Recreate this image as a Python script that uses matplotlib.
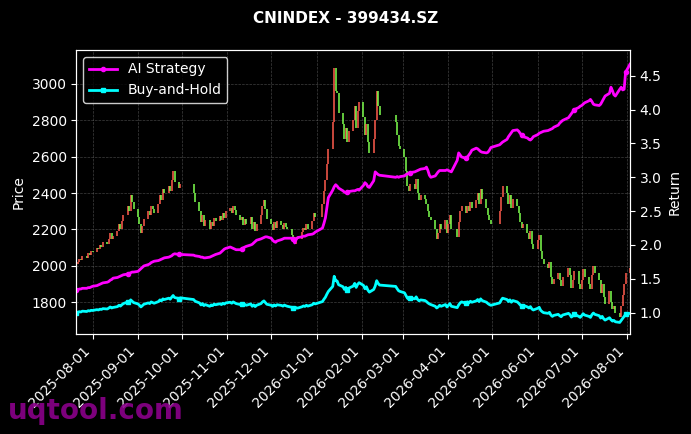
import numpy as np
import pandas as pd
import matplotlib
matplotlib.use('Agg')
import matplotlib.pyplot as plt
import matplotlib.dates as mdates

# trading calendar (SZ), holidays removed
start, end = '2025-07-21', '2026-08-03'
holidays = ['2025-10-01', '2025-10-02', '2025-10-03', '2025-10-06', '2025-10-07', '2025-10-08',
            '2026-01-01', '2026-01-02',
            '2026-02-16', '2026-02-17', '2026-02-18', '2026-02-19', '2026-02-20', '2026-02-23',
            '2026-04-06', '2026-05-01', '2026-05-04', '2026-05-05', '2026-06-19']

# daily close
close = [
    # Jul 2025
    2010, 2020, 2040, 2030, 2055, 2045, 2070, 2060, 2080,
    # Aug
    2075, 2100, 2090, 2115, 2105, 2130, 2120, 2145, 2180, 2150, 2165,
    2190, 2230, 2205, 2245, 2280, 2330, 2300, 2390, 2350, 2310,
    # Sep
    2270, 2230, 2180, 2220, 2260, 2300, 2280, 2330, 2310, 2290,
    2340, 2390, 2360, 2420, 2400, 2440, 2410, 2470, 2520, 2460, 2430, 2450,
    # Oct
    2400, 2350, 2300, 2240, 2280, 2220, 2250, 2200, 2240, 2220, 2265, 2245,
    2275, 2250, 2290, 2265, 2300,
    # Nov
    2320, 2290, 2330, 2305, 2280, 2250, 2270, 2225, 2255, 2230,
    2270, 2200, 2240, 2190, 2230, 2280, 2330, 2360, 2310, 2260,
    # Dec
    2230, 2195, 2240, 2210, 2245, 2225, 2205, 2235, 2215, 2200,
    2170, 2140, 2120, 2160, 2145, 2185, 2210, 2195, 2230, 2205, 2245, 2290, 2270,
    # Jan 2026
    2340, 2410, 2470, 2560, 2640, 2790, 3090, 2960, 2950, 2840,
    2780, 2700, 2760, 2680, 2740, 2800, 2880, 2760, 2850, 2900,
    # Feb
    2820, 2720, 2780, 2680, 2620, 2700, 2800, 2960, 2880, 2830,
    2790, 2720, 2660, 2640,
    # Mar
    2600, 2520, 2440, 2410, 2450, 2420, 2480, 2400, 2360, 2390,
    2370, 2340, 2300, 2270, 2250, 2200, 2150, 2180, 2230, 2200, 2250, 2180,
    # Apr
    2230, 2280, 2200, 2160, 2240, 2300, 2330, 2290, 2330, 2300, 2350, 2320,
    2360, 2400, 2340, 2420, 2370, 2320, 2280, 2250, 2230,
    # May
    2300, 2380, 2440, 2400, 2340, 2390, 2320, 2370, 2330, 2290, 2240, 2210, 2230,
    2180, 2150, 2190, 2120, 2090,
    # Jun
    2140, 2170, 2080, 2040, 2010, 1990, 2020, 1940, 1900, 1930,
    1960, 1920, 1890, 1940, 1990, 1950, 1880, 1920, 1970, 1900, 1870,
    # Jul
    1920, 1980, 1940, 1900, 1870, 1950, 2000, 1960, 1920, 1850, 1900, 1830, 1790,
    1860, 1800, 1760, 1780, 1740, 1720, 1780, 1840, 1900, 1960,
    # Aug
    1990,
]

# AI strategy cumulative return
ai_ret = [
    # Jul 2025
    1.33, 1.34, 1.35, 1.35, 1.36, 1.36, 1.37, 1.37, 1.38,
    # Aug
    1.39, 1.40, 1.41, 1.42, 1.43, 1.44, 1.45, 1.46, 1.48, 1.49, 1.51,
    1.52, 1.53, 1.54, 1.55, 1.56, 1.57, 1.58, 1.59, 1.60, 1.60,
    # Sep
    1.61, 1.63, 1.65, 1.67, 1.69, 1.71, 1.72, 1.74, 1.75, 1.76,
    1.77, 1.78, 1.79, 1.80, 1.81, 1.82, 1.83, 1.84, 1.86, 1.87, 1.86, 1.86,
    # Oct
    1.85, 1.84, 1.83, 1.82, 1.82, 1.81, 1.81, 1.82, 1.83, 1.84, 1.85, 1.86,
    1.88, 1.90, 1.92, 1.94, 1.95,
    # Nov
    1.97, 1.96, 1.95, 1.94, 1.93, 1.93, 1.94, 1.96, 1.97, 1.98,
    2.00, 2.01, 2.03, 2.05, 2.07, 2.09, 2.10, 2.11, 2.12, 2.12,
    # Dec
    2.10, 2.07, 2.05, 2.04, 2.06, 2.08, 2.09, 2.10, 2.10, 2.10,
    2.10, 2.09, 2.03, 2.08, 2.11, 2.12, 2.13, 2.13, 2.14, 2.15, 2.16, 2.17, 2.19,
    # Jan 2026
    2.25, 2.32, 2.40, 2.55, 2.70, 2.81, 2.86, 2.89, 2.87, 2.84,
    2.80, 2.78, 2.77, 2.78, 2.79, 2.80, 2.80, 2.81, 2.82, 2.81,
    # Feb
    2.88, 2.92, 2.90, 2.86, 2.85, 2.95, 3.08, 3.06, 3.04, 3.03,
    3.00, 3.01, 3.00, 3.01,
    # Mar
    3.02, 3.04, 3.05, 3.06, 3.07, 3.08, 3.09, 3.10, 3.11, 3.12,
    3.13, 3.15, 3.10, 3.03, 3.00, 3.02, 3.05, 3.08, 3.10, 3.10, 3.10, 3.11,
    # Apr
    3.10, 3.09, 3.08, 3.25, 3.36, 3.33, 3.30, 3.28, 3.30, 3.33, 3.36, 3.40,
    3.43, 3.42, 3.40, 3.38, 3.37, 3.36, 3.37, 3.40, 3.44,
    # May
    3.48, 3.50, 3.52, 3.56, 3.60, 3.63, 3.66, 3.69, 3.70, 3.68, 3.65, 3.62, 3.60,
    3.58, 3.56, 3.55, 3.57, 3.60,
    # Jun
    3.63, 3.65, 3.66, 3.67, 3.68, 3.69, 3.70, 3.71, 3.72, 3.74,
    3.77, 3.80, 3.82, 3.84, 3.88, 3.91, 3.94, 3.97, 4.00, 4.03, 4.05,
    # Jul
    4.06, 4.08, 4.10, 4.13, 4.15, 4.12, 4.08, 4.07, 4.06, 4.08, 4.12, 4.16, 4.20,
    4.24, 4.33, 4.28, 4.22, 4.20, 4.30, 4.33, 4.29, 4.30, 4.55,
    # Aug
    4.67,
]

dates = pd.bdate_range(start, end)
dates = dates[~dates.isin(pd.to_datetime(holidays))]
n = min(len(dates), len(close), len(ai_ret))
dates = dates[:n]
close = np.array(close[:n], dtype=float)
ai_ret = np.array(ai_ret[:n])
opens = np.r_[close[0], close[:-1]]
bh_ret = close / close[0]

fig = plt.figure(figsize=(6.91, 4.34), dpi=100, facecolor='black')
ax = fig.add_axes([0.1107, 0.2304, 0.801, 0.6544])
ax.set_facecolor('black')

# candles: red up, green down
up = close >= opens
cols = np.where(up, '#ff5c4d', '#7dff4d')
ax.vlines(dates, np.minimum(opens, close), np.maximum(opens, close),
          colors=cols, linewidth=1.3, alpha=0.85)
ax.set_ylim(1625, 3187)
ax.set_xlim(dates[0], dates[-1])
ax.set_ylabel('Price', color='white')
ax.grid(True, color='gray', linestyle='--', linewidth=0.5, alpha=0.5)

ax2 = ax.twinx()
ax2.plot(dates, ai_ret, color='#ff00ff', linewidth=2, marker='o', markersize=3,
         markevery=25, label='AI Strategy')
ax2.plot(dates, bh_ret, color='#00ffff', linewidth=2, marker='s', markersize=3,
         markevery=25, label='Buy-and-Hold')
ax2.set_ylim(0.685, 4.88)
ax2.set_ylabel('Return', color='white')

for a in (ax, ax2):
    a.tick_params(colors='white')
    for s in a.spines.values():
        s.set_color('white')

ax.xaxis.set_major_locator(mdates.MonthLocator())
ax.xaxis.set_major_formatter(mdates.DateFormatter('%Y-%m-%d'))
plt.setp(ax.get_xticklabels(), rotation=45, ha='right')

leg = ax2.legend(loc='upper left', facecolor='black', edgecolor='white', fontsize=10)
for t in leg.get_texts():
    t.set_color('white')

fig.suptitle('CNINDEX - 399434.SZ', color='white', fontsize=11, fontweight='bold', y=0.975)
fig.text(0.012, 0.035, 'uqtool.com', color='#8b008b', fontsize=20, fontweight='bold',
         alpha=0.9, zorder=0)

fig.savefig('out.png', dpi=100, facecolor='black')
